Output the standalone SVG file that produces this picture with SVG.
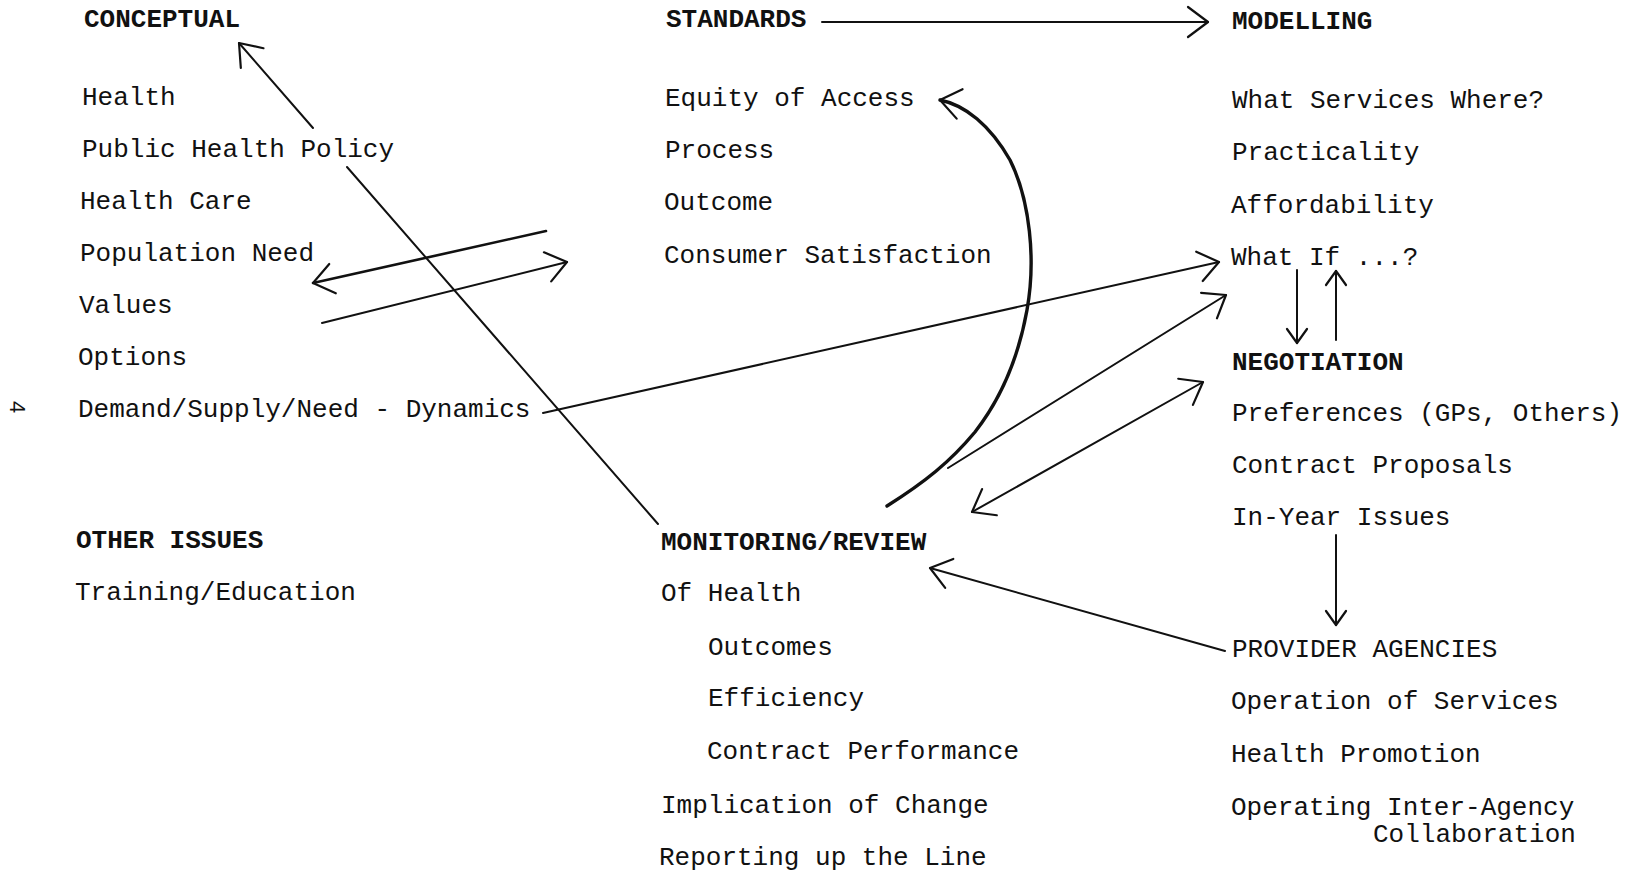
<svg xmlns="http://www.w3.org/2000/svg" width="1631" height="870" viewBox="0 0 1631 870">
<style>
text{font-family:"Liberation Mono","Courier New",monospace;font-size:26px;fill:#111}
.h{font-weight:bold}
.ln{fill:none;stroke:#111;stroke-width:2;stroke-linecap:round}
.ah{fill:none;stroke:#111;stroke-width:2.2;stroke-linecap:round;stroke-linejoin:round}
</style>
<defs>
<marker id="arr" markerUnits="userSpaceOnUse" markerWidth="40" markerHeight="40" viewBox="-30 -20 40 40" refX="0" refY="0" orient="auto" overflow="visible">
<path class="ah" d="M-20,-15 L0,0 L-20,15"/>
</marker>
<marker id="arr2" markerUnits="userSpaceOnUse" markerWidth="40" markerHeight="40" viewBox="-30 -20 40 40" refX="0" refY="0" orient="auto-start-reverse" overflow="visible">
<path class="ah" d="M-20,-15 L0,0 L-20,15"/>
</marker>
<marker id="arrS" markerUnits="userSpaceOnUse" markerWidth="40" markerHeight="40" viewBox="-30 -20 40 40" refX="0" refY="0" orient="auto" overflow="visible">
<path class="ah" d="M-14,-10 L0,0 L-14,10"/>
</marker>
</defs>
<rect width="1631" height="870" fill="#fff"/>

<g id="connectors">
<path class="ln" d="M313,128 L239,43" marker-end="url(#arr)"/>
<path class="ln" d="M347,167 L658,524"/>
<path class="ln" style="stroke-width:2.6" d="M546,231 L313,283" marker-end="url(#arr)"/>
<path class="ln" d="M322,323 L567,262" marker-end="url(#arr)"/>
<path class="ln" d="M822,22 L1208,22" marker-end="url(#arr)"/>
<path class="ln" style="stroke-width:3.4" d="M887,506 C925,482 950,462 975,432 C1000,400 1018,360 1027,310 C1036,260 1030,200 1010,160 C990,125 965,105 940,100" marker-end="url(#arr)"/>
<path class="ln" d="M543,413 L1219,262" marker-end="url(#arr)"/>
<path class="ln" d="M948,468 L1226,295" marker-end="url(#arr)"/>
<path class="ln" d="M972,512 L1203,382" marker-start="url(#arr2)" marker-end="url(#arr2)"/>
<path class="ln" d="M1225,651 L930,568" marker-end="url(#arr)"/>
<path class="ln" d="M1297,270 L1297,343" marker-end="url(#arrS)"/>
<path class="ln" d="M1336,340 L1336,271" marker-end="url(#arrS)"/>
<path class="ln" d="M1336,535 L1336,625" marker-end="url(#arrS)"/>
</g>

<g id="conceptual">
<text class="h" x="84" y="27">CONCEPTUAL</text>
<text x="82" y="105">Health</text>
<text x="82" y="157">Public Health Policy</text>
<text x="80" y="209">Health Care</text>
<text x="80" y="261">Population Need</text>
<text x="79" y="313">Values</text>
<text x="78" y="365">Options</text>
<text x="78" y="417">Demand/Supply/Need - Dynamics</text>
</g>

<g id="other-issues">
<text class="h" x="76" y="548">OTHER ISSUES</text>
<text x="75" y="600">Training/Education</text>
</g>

<g id="standards">
<text class="h" x="666" y="27">STANDARDS</text>
<text x="665" y="106">Equity of Access</text>
<text x="665" y="158">Process</text>
<text x="664" y="210">Outcome</text>
<text x="664" y="263">Consumer Satisfaction</text>
</g>

<g id="modelling">
<text class="h" x="1232" y="29">MODELLING</text>
<text x="1232" y="108">What Services Where?</text>
<text x="1232" y="160">Practicality</text>
<text x="1231" y="213">Affordability</text>
<text x="1231" y="265">What If ...?</text>
</g>

<g id="negotiation">
<text class="h" x="1232" y="370">NEGOTIATION</text>
<text x="1232" y="421">Preferences (GPs, Others)</text>
<text x="1232" y="473">Contract Proposals</text>
<text x="1232" y="525">In-Year Issues</text>
</g>

<g id="provider-agencies">
<text x="1232" y="657">PROVIDER AGENCIES</text>
<text x="1231" y="709">Operation of Services</text>
<text x="1231" y="762">Health Promotion</text>
<text x="1231" y="815">Operating Inter-Agency</text>
<text x="1373" y="842">Collaboration</text>
</g>

<g id="monitoring-review">
<text class="h" x="661" y="550">MONITORING/REVIEW</text>
<text x="661" y="601">Of Health</text>
<text x="708" y="655">Outcomes</text>
<text x="708" y="706">Efficiency</text>
<text x="707" y="759">Contract Performance</text>
<text x="661" y="813">Implication of Change</text>
<text x="659" y="865">Reporting up the Line</text>
</g>

<g id="page-number">
<text transform="translate(10,407) rotate(90)" text-anchor="middle" style="font-size:22px">4</text>
</g>
</svg>
